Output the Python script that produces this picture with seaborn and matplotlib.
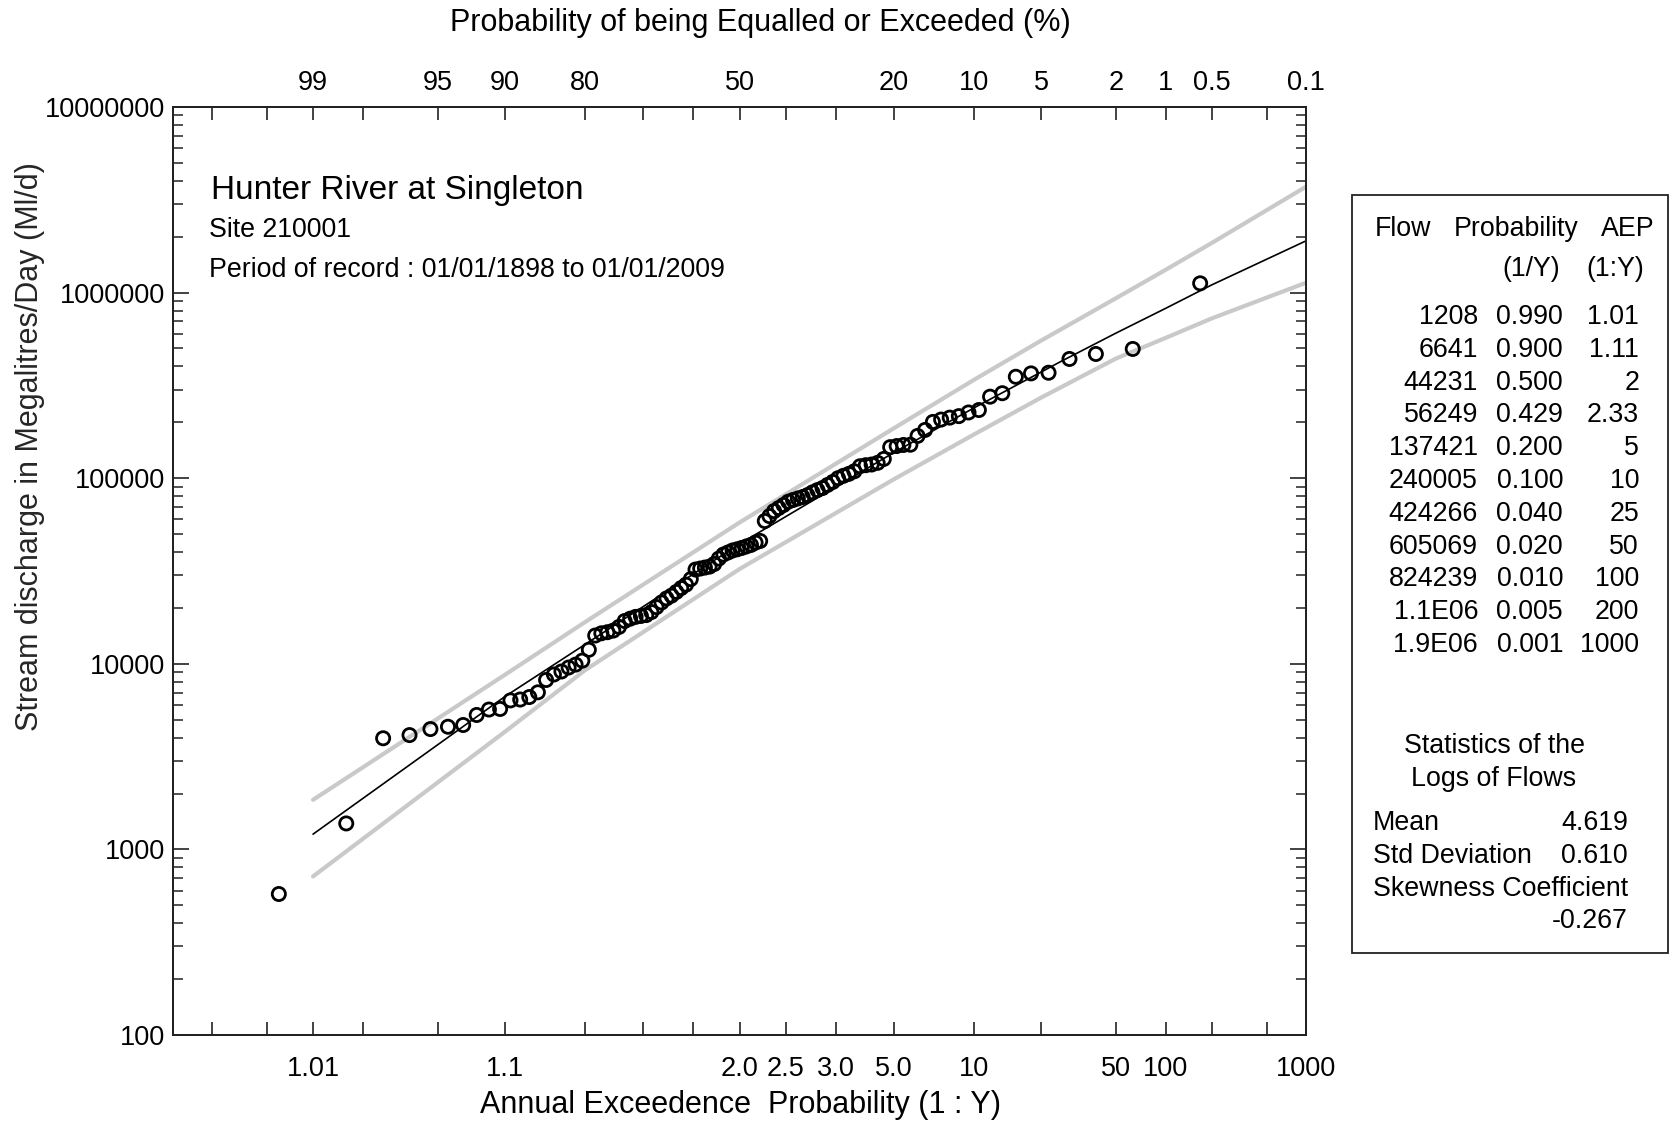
from statistics import NormalDist

import numpy as np
import pandas as pd
import matplotlib
matplotlib.use('Agg')
import matplotlib.pyplot as plt
from matplotlib.patches import Rectangle
from matplotlib.ticker import FixedLocator, FixedFormatter, LogLocator, NullFormatter, NullLocator
import seaborn as sns

# annual maximum flows (ML/d), largest first
annual_max_flow = [
    1122000, 497000, 467000, 439000, 370000, 367000, 352000, 287000, 275000, 233000,
    226000, 216000, 212000, 207000, 201000, 182000, 169000, 151500, 151000, 149000,
    147000, 127000, 121000, 118500, 117500, 116000, 109000, 105500, 103000, 100000,
    95500, 92000, 88500, 86300, 83900, 81100, 79200, 77800, 76300, 74700,
    71700, 69100, 66500, 62500, 58800, 45900, 45000, 43700, 42900, 42100,
    41400, 40800, 39800, 38800, 36900, 34500, 33400, 33000, 32600, 32200,
    28600, 26700, 25600, 24400, 23300, 22500, 21400, 20200, 19000, 18300,
    18100, 17900, 17500, 17000, 15800, 15100, 14800, 14600, 14200, 11900,
    10400, 9900, 9550, 9090, 8760, 8180, 7020, 6620, 6420, 6350,
    5710, 5670, 5300, 4680, 4580, 4450, 4130, 3970, 1380, 575,
]

# fitted quantiles (results table)
table_flow = ['1208', '6641', '44231', '56249', '137421', '240005', '424266',
              '605069', '824239', '1.1E06', '1.9E06']
table_prob = [0.990, 0.900, 0.500, 0.429, 0.200, 0.100, 0.040, 0.020, 0.010, 0.005, 0.001]
table_aep = ['1.01', '1.11', '2', '2.33', '5', '10', '25', '50', '100', '200', '1000']
fit_flow = [1208, 6641, 44231, 56249, 137421, 240005, 424266, 605069, 824239, 1.1e6, 1.9e6]

# confidence limits (grey curves)
conf_prob = [99, 90, 80, 50, 20, 10, 5, 2, 1, 0.5, 0.1]
upper_flow = [1850, 8700, 16800, 57700, 185700, 340000, 551000, 933000, 1330000, 1850000, 3720000]
lower_flow = [715, 4290, 9250, 32400, 98600, 172600, 271600, 441300, 571000, 726000, 1130000]

# axis ticks (exceedance probability, %)
tick_prob = [99.8, 99.5, 99, 98, 95, 90, 80, 70, 60, 50, 40, 30, 20, 10, 5, 2, 1, 0.5, 0.2, 0.1]
top_labels = {99: '99', 95: '95', 90: '90', 80: '80', 50: '50', 20: '20', 10: '10',
              5: '5', 2: '2', 1: '1', 0.5: '0.5', 0.1: '0.1'}
bottom_labels = {99: '1.01', 90: '1.1', 50: '2.0', 40: '2.5', 30: '3.0', 20: '5.0',
                 10: '10', 2: '50', 1: '100', 0.1: '1000'}

stats_names = ['Mean', 'Std Deviation', 'Skewness Coefficient']
stats_values = ['4.619', '0.610', '-0.267']

# Cunnane plotting positions
n = len(annual_max_flow)
rank = np.arange(1, n + 1)
df = pd.DataFrame({'flow': annual_max_flow, 'prob': (rank - 0.4) / (n + 0.2) * 100})

fit = pd.DataFrame({'prob': np.array(table_prob) * 100, 'flow': fit_flow})
conf = pd.DataFrame({'prob': conf_prob, 'upper': upper_flow, 'lower': lower_flow})

# normal probability scale (increasing in p, axis inverted through the limits)
nd = NormalDist()


def _fwd(p):
    p = np.clip(np.asarray(p, dtype=float), 1e-6, 100 - 1e-6)
    return np.vectorize(lambda v: nd.inv_cdf(v / 100.0), otypes=[float])(p)


def _inv(z):
    z = np.asarray(z, dtype=float)
    return np.vectorize(lambda v: 100.0 * nd.cdf(v), otypes=[float])(z)


sns.set_style('white')
plt.rcParams['font.family'] = ['Liberation Sans', 'DejaVu Sans']

W, H = 1673, 1121
fig = plt.figure(figsize=(W / 100, H / 100), dpi=100)
ax = fig.add_axes([173 / W, 1 - 1035 / H, (1306 - 173) / W, (1035 - 107) / H])
ax.set_xscale('function', functions=(_fwd, _inv))
ax.set_yscale('log')

grey = '#c9c9c9'
sns.lineplot(data=conf, x='prob', y='upper', ax=ax, color=grey, lw=3, sort=False, estimator=None)
sns.lineplot(data=conf, x='prob', y='lower', ax=ax, color=grey, lw=3, sort=False, estimator=None)
sns.lineplot(data=fit, x='prob', y='flow', ax=ax, color='black', lw=1.2, sort=False, estimator=None)
sns.scatterplot(data=df, x='prob', y='flow', ax=ax, marker='o', s=90,
                facecolor='none', edgecolor='black', linewidth=2.0, zorder=5)

ax.set_xlim(99.9, 0.1)
ax.set_ylim(100, 1e7)
ax.set_xlabel('')
ax.set_ylabel('')

# y axis
ax.yaxis.set_major_locator(FixedLocator([1e2, 1e3, 1e4, 1e5, 1e6, 1e7]))
ax.yaxis.set_major_formatter(FixedFormatter(['100', '1000', '10000', '100000', '1000000', '10000000']))
ax.yaxis.set_minor_locator(LogLocator(base=10, subs=np.arange(2, 10)))
ax.yaxis.set_minor_formatter(NullFormatter())

# bottom x axis
ax.xaxis.set_major_locator(FixedLocator(tick_prob))
ax.xaxis.set_major_formatter(FixedFormatter([bottom_labels.get(p, '') for p in tick_prob]))
ax.xaxis.set_minor_locator(NullLocator())

ax.tick_params(axis='y', which='major', direction='in', length=11.5, width=1.2,
               left=True, right=True, labelsize=19.5, pad=6, colors='#222222', labelcolor='black')
ax.tick_params(axis='y', which='minor', direction='in', length=7, width=1.1,
               left=True, right=True, colors='#222222')
ax.tick_params(axis='x', which='major', direction='in', length=9.5, width=1.2,
               bottom=True, top=False, labelsize=19.5, pad=15, colors='#222222', labelcolor='black')

# top x axis
ax2 = ax.twiny()
ax2.set_xscale('function', functions=(_fwd, _inv))
ax2.set_xlim(99.9, 0.1)
ax2.xaxis.set_major_locator(FixedLocator(tick_prob))
ax2.xaxis.set_major_formatter(FixedFormatter([top_labels.get(p, '') for p in tick_prob]))
ax2.xaxis.set_minor_locator(NullLocator())
ax2.tick_params(axis='x', which='major', direction='in', length=9.5, width=1.2,
                top=True, bottom=False, labelsize=19.5, pad=8, colors='#222222', labelcolor='black')

for a in (ax, ax2):
    for sp in a.spines.values():
        sp.set_linewidth(1.4)
        sp.set_color('#222222')


def fx(x):
    return x / W


def fy(y):
    return 1 - y / H


def put(x, y, s, ha='left', size=19.3):
    fig.text(fx(x), fy(y), s, ha=ha, va='center', fontsize=size, color='black')


# axis titles
put(713 * W / 1568, 23, 'Probability of being Equalled or Exceeded (%)', ha='center', size=22)
put(740, 1105, 'Annual Exceedence  Probability (1 : Y)', ha='center', size=22)
fig.text(fx(30), fy(447), 'Stream discharge in Megalitres/Day (Ml/d)', rotation=90,
         ha='center', va='center', fontsize=22)

# site info
put(211, 191, 'Hunter River at Singleton', size=24)
put(209, 230, 'Site 210001', size=19.3)
put(209, 270, 'Period of record : 01/01/1898 to 01/01/2009', size=19.3)

# results box
fig.add_artist(Rectangle((fx(1352), fy(953)), (1668 - 1352) / W, (953 - 195) / H,
                         transform=fig.transFigure, fill=False, lw=1.3, ec='#222222'))
put(1375, 229, 'Flow')
put(1516, 229, 'Probability', ha='center')
put(1655, 229, 'AEP', ha='right')
put(1560, 269, '(1/Y)', ha='right')
put(1644, 269, '(1:Y)', ha='right')
row_y = np.arange(len(table_flow)) * 32.8 + 317
for yy, fl, pr, ae in zip(row_y, table_flow, table_prob, table_aep):
    put(1478, yy, fl, ha='right')
    put(1563, yy, f'{pr:.3f}', ha='right')
    put(1639, yy, ae, ha='right')

put(1494, 746, 'Statistics of the', ha='center')
put(1494, 779, 'Logs of Flows', ha='center')
for yy, nm, val in zip([823, 856, 889], stats_names, stats_values):
    put(1373, yy, nm)
    if nm != 'Skewness Coefficient':
        put(1628, yy, val, ha='right')
put(1628, 921, stats_values[2], ha='right')

fig.savefig('out.png', dpi=100)
